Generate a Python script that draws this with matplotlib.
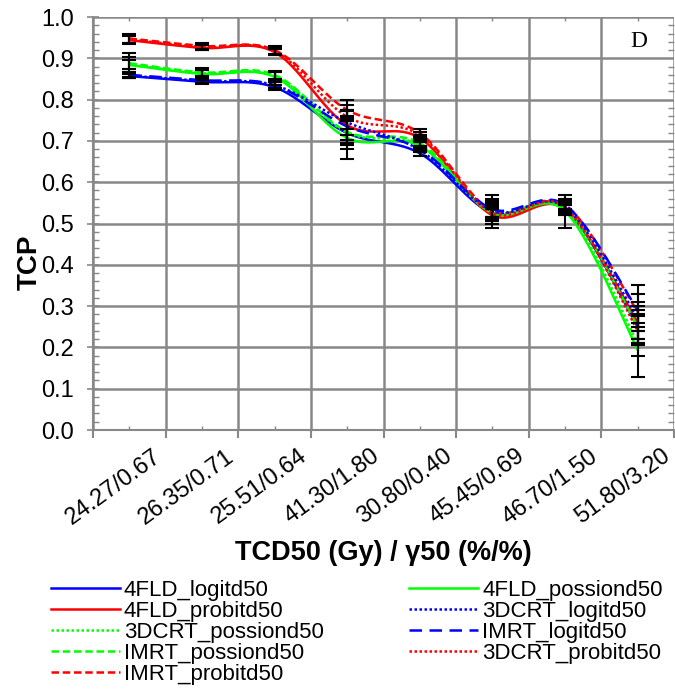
import numpy as np
import matplotlib
matplotlib.use("Agg")
import matplotlib.pyplot as plt
import matplotlib.transforms as mtransforms
from matplotlib.ticker import MultipleLocator, FixedLocator, FormatStrFormatter

plt.rcParams['font.family'] = ['Liberation Sans', 'DejaVu Sans']

categories = ["24.27/0.67", "26.35/0.71", "25.51/0.64", "41.30/1.80",
              "30.80/0.40", "45.45/0.69", "46.70/1.50", "51.80/3.20"]

# TCP per model / technique
fld_logit = [0.857, 0.843, 0.830, 0.719, 0.670, 0.525, 0.535, 0.250]
fld_probit = [0.944, 0.925, 0.915, 0.738, 0.707, 0.520, 0.535, 0.260]
crt_poisson = [0.885, 0.864, 0.857, 0.720, 0.690, 0.530, 0.535, 0.210]
imrt_poisson = [0.888, 0.866, 0.860, 0.722, 0.695, 0.530, 0.540, 0.250]
imrt_probit = [0.948, 0.930, 0.920, 0.775, 0.719, 0.530, 0.545, 0.286]
fld_poisson = [0.884, 0.862, 0.855, 0.707, 0.688, 0.525, 0.530, 0.194]
crt_logit = [0.858, 0.845, 0.835, 0.745, 0.678, 0.530, 0.540, 0.270]
imrt_logit = [0.860, 0.847, 0.835, 0.735, 0.680, 0.535, 0.545, 0.290]
crt_probit = [0.946, 0.927, 0.918, 0.758, 0.714, 0.525, 0.540, 0.240]

# symmetric error bar half-widths
err_fld_logit = [0.005, 0.005, 0.006, 0.030, 0.006, 0.010, 0.012, 0.040]
err_fld_probit = [0.010, 0.006, 0.008, 0.035, 0.008, 0.015, 0.010, 0.050]
err_crt_poisson = [0.012, 0.008, 0.010, 0.040, 0.008, 0.020, 0.015, 0.030]
err_imrt_poisson = [0.015, 0.010, 0.010, 0.030, 0.010, 0.015, 0.012, 0.030]
err_imrt_probit = [0.010, 0.008, 0.010, 0.025, 0.010, 0.030, 0.010, 0.065]
err_fld_poisson = [0.030, 0.010, 0.012, 0.050, 0.010, 0.020, 0.040, 0.065]
err_crt_logit = [0.006, 0.005, 0.008, 0.030, 0.006, 0.040, 0.020, 0.030]
err_imrt_logit = [0.008, 0.006, 0.008, 0.040, 0.008, 0.020, 0.015, 0.040]
err_crt_probit = [0.010, 0.008, 0.010, 0.030, 0.008, 0.015, 0.012, 0.035]

# (label, values, errors, colour, dash pattern) - left legend column first
series = [
    ("4FLD_logitd50", fld_logit, err_fld_logit, "#0000ff", "-"),
    ("4FLD_probitd50", fld_probit, err_fld_probit, "#ff0000", "-"),
    ("3DCRT_possiond50", crt_poisson, err_crt_poisson, "#00ff00", (0, (1, 1))),
    ("IMRT_possiond50", imrt_poisson, err_imrt_poisson, "#00ff00", (0, (3, 1.5))),
    ("IMRT_probitd50", imrt_probit, err_imrt_probit, "#ff0000", (0, (3, 1.5))),
    ("4FLD_possiond50", fld_poisson, err_fld_poisson, "#00ff00", "-"),
    ("3DCRT_logitd50", crt_logit, err_crt_logit, "#0000ff", (0, (1, 1))),
    ("IMRT_logitd50", imrt_logit, err_imrt_logit, "#0000ff", (0, (5, 3))),
    ("3DCRT_probitd50", crt_probit, err_crt_probit, "#ff0000", (0, (1, 1))),
]


def smooth(xs, ys, yscale=5.68, n=40):
    # Catmull-Rom style bezier smoothing through the points
    px = np.asarray(xs, float)
    py = np.asarray(ys, float) * yscale
    out_x, out_y = [px[0]], [py[0]]
    for i in range(len(px) - 1):
        p0 = (px[max(i - 1, 0)], py[max(i - 1, 0)])
        p1 = (px[i], py[i])
        p2 = (px[i + 1], py[i + 1])
        p3 = (px[min(i + 2, len(px) - 1)], py[min(i + 2, len(px) - 1)])
        c1 = (p1[0] + (p2[0] - p0[0]) / 6, p1[1] + (p2[1] - p0[1]) / 6)
        c2 = (p2[0] - (p3[0] - p1[0]) / 6, p2[1] - (p3[1] - p1[1]) / 6)
        t = np.linspace(0, 1, n)[1:]
        bx = (1 - t) ** 3 * p1[0] + 3 * (1 - t) ** 2 * t * c1[0] + 3 * (1 - t) * t ** 2 * c2[0] + t ** 3 * p2[0]
        by = (1 - t) ** 3 * p1[1] + 3 * (1 - t) ** 2 * t * c1[1] + 3 * (1 - t) * t ** 2 * c2[1] + t ** 3 * p2[1]
        out_x.extend(bx)
        out_y.extend(by)
    return np.array(out_x), np.array(out_y) / yscale


fig = plt.figure(figsize=(6.75, 6.93), dpi=100)
ax = fig.add_axes([93 / 675, 1 - 430 / 693, 581 / 675, 413 / 693])

x = np.arange(1, len(categories) + 1)
handles = []
for label, vals, errs, col, ls in series:
    sx, sy = smooth(x, vals)
    h, = ax.plot(sx, sy, color=col, linestyle=ls, linewidth=1.8, label=label, zorder=3)
    handles.append(h)
for label, vals, errs, col, ls in series:
    ax.errorbar(x, vals, yerr=errs, fmt='none', ecolor='black',
                elinewidth=1.5, capsize=5, capthick=1.5, zorder=4)

ax.set_xlim(0.5, 8.5)
ax.set_ylim(0, 1.0)

gray = "#888888"
ax.yaxis.set_major_locator(MultipleLocator(0.1))
ax.yaxis.set_minor_locator(MultipleLocator(0.02))
ax.yaxis.set_major_formatter(FormatStrFormatter('%.1f'))
ax.xaxis.set_major_locator(FixedLocator(np.arange(0.5, 9.0, 1.0)))
ax.xaxis.set_minor_locator(FixedLocator(x))
ax.set_xticklabels([])
ax.grid(True, which='major', color=gray, linewidth=1.8)
ax.set_axisbelow(True)

for side in ['top', 'right']:
    ax.spines[side].set_visible(False)
for side in ['left', 'bottom']:
    ax.spines[side].set_color(gray)
    ax.spines[side].set_linewidth(1.5)

ax.tick_params(axis='y', which='major', direction='inout', length=8, width=1.2,
               color=gray, labelsize=17, pad=10)
ax.tick_params(axis='y', which='minor', direction='in', length=4, width=1,
               color=gray, right=True)
ax.tick_params(axis='x', which='major', direction='out', length=6, width=1.5,
               color=gray, labelbottom=False)
ax.tick_params(axis='x', which='minor', direction='in', length=3, width=1,
               color=gray, top=True)

# category labels, rotated and shifted to sit right of each category
offset = mtransforms.ScaledTranslation(0.30, -0.24, fig.dpi_scale_trans)
for xi, lab in zip(x, categories):
    ax.text(xi, 0, lab, rotation=36, rotation_mode='anchor', ha='right', va='center',
            fontsize=17, transform=ax.get_xaxis_transform() + offset)

fig.text(30 / 675, 1 - 262 / 693, "TCP", fontsize=20, fontweight='bold',
         rotation=90, ha='center', va='center')
fig.text(383 / 675, 1 - 553 / 693, "TCD50 (Gy) / \u03b350 (%/%)", fontsize=19.5,
         fontweight='bold', ha='center', va='center')

ax.text(0.94, 0.94, "D", transform=ax.transAxes, fontsize=17,
        family=['Liberation Serif', 'DejaVu Serif'], ha='center', va='center')

fig.legend(handles=handles, loc='upper left', bbox_to_anchor=(42 / 675, 1 - 571 / 693),
           ncol=2, frameon=False, fontsize=16, handlelength=3.1, handletextpad=0.18,
           columnspacing=3.85, labelspacing=0.0, borderaxespad=0)

fig.savefig("out.png", dpi=100)
